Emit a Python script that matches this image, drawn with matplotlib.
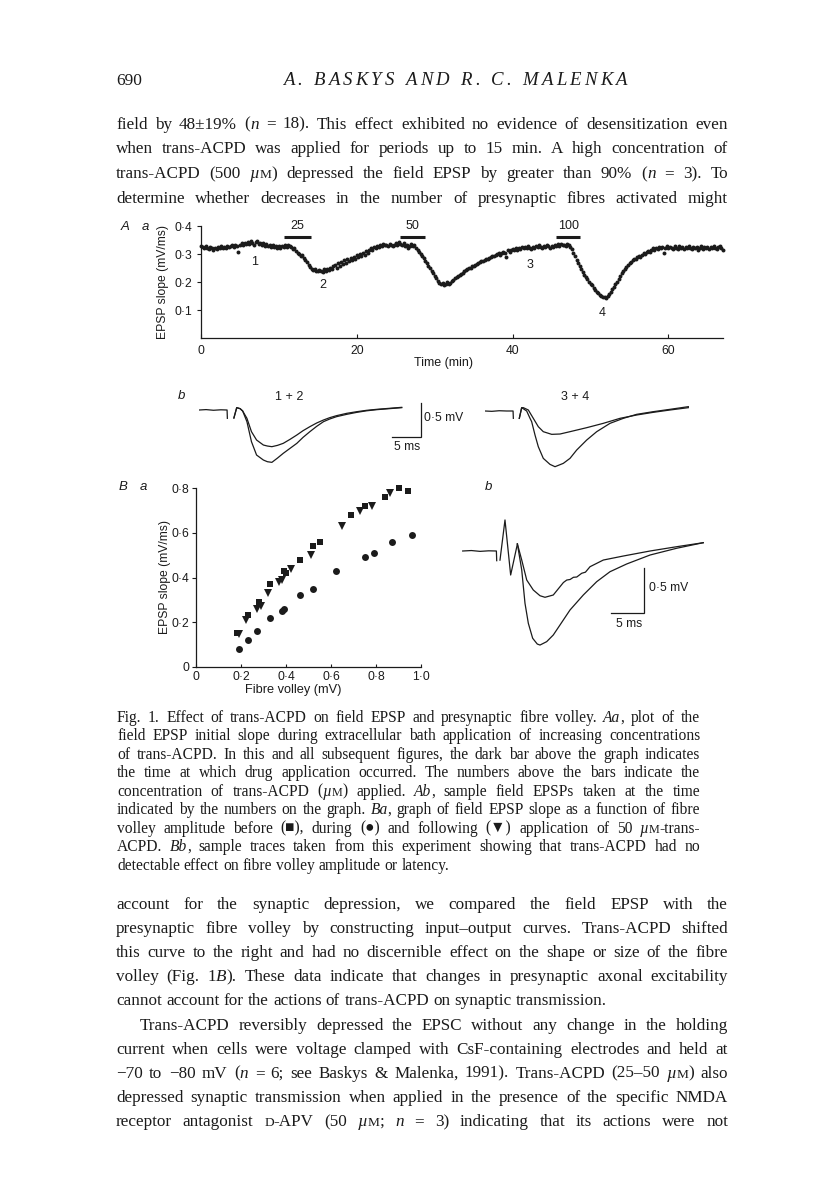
import numpy as np
import matplotlib
matplotlib.use('Agg')
import matplotlib.pyplot as plt

W, H, DPI = 816, 1183, 100
INK = '#1b1b1b'
SERIF = ['Liberation Serif', 'DejaVu Serif', 'DejaVu Sans']
SANS = ['Liberation Sans', 'DejaVu Sans']

# ---------------- data : panel Aa (EPSP slope, one point every 0.2 min) -------------
dt_min = 0.2
slope_0_5 = [0.330,0.326,0.322,0.327,0.320,0.318,0.324,0.321,0.316,0.323,0.319,0.325,0.321,0.328,0.322,0.326,0.320,0.330,0.324,0.327,0.331,0.325,0.333,0.328,0.306]
slope_5_10 = [0.334,0.338,0.331,0.340,0.336,0.343,0.337,0.345,0.339,0.334,0.342,0.348,0.336,0.340,0.332,0.338,0.330,0.335,0.328,0.333,0.326,0.331,0.324,0.329,0.322]
slope_10_15 = [0.327,0.320,0.329,0.324,0.331,0.326,0.333,0.328,0.324,0.318,0.322,0.312,0.305,0.300,0.292,0.296,0.285,0.278,0.270,0.262,0.254,0.248,0.243,0.246,0.240]
slope_15_20 = [0.238,0.244,0.241,0.236,0.245,0.240,0.248,0.243,0.252,0.246,0.256,0.262,0.250,0.268,0.258,0.272,0.264,0.278,0.268,0.282,0.274,0.286,0.279,0.290,0.284]
slope_20_25 = [0.295,0.288,0.300,0.294,0.305,0.298,0.310,0.304,0.314,0.320,0.316,0.324,0.320,0.328,0.325,0.332,0.328,0.335,0.331,0.334,0.330,0.336,0.332,0.329,0.334]
slope_25_30 = [0.338,0.333,0.342,0.336,0.331,0.340,0.328,0.334,0.322,0.330,0.335,0.328,0.332,0.320,0.316,0.308,0.300,0.292,0.286,0.276,0.268,0.258,0.249,0.240,0.232]
slope_30_35 = [0.222,0.214,0.205,0.198,0.192,0.196,0.188,0.194,0.199,0.192,0.197,0.203,0.208,0.214,0.218,0.222,0.227,0.230,0.234,0.238,0.242,0.246,0.249,0.252,0.256]
slope_35_40 = [0.259,0.262,0.266,0.268,0.271,0.274,0.277,0.279,0.282,0.284,0.287,0.290,0.292,0.294,0.297,0.299,0.302,0.298,0.305,0.308,0.304,0.290,0.313,0.309,0.315]
slope_40_45 = [0.318,0.314,0.320,0.316,0.322,0.319,0.324,0.320,0.326,0.322,0.328,0.323,0.318,0.326,0.321,0.329,0.324,0.331,0.326,0.322,0.330,0.325,0.332,0.327,0.323]
slope_45_50 = [0.330,0.326,0.333,0.328,0.335,0.330,0.336,0.331,0.334,0.329,0.335,0.331,0.326,0.318,0.305,0.292,0.280,0.268,0.256,0.245,0.236,0.226,0.218,0.210,0.202]
slope_50_55 = [0.195,0.188,0.180,0.172,0.166,0.160,0.155,0.150,0.146,0.148,0.143,0.150,0.158,0.166,0.175,0.184,0.193,0.202,0.212,0.222,0.232,0.240,0.248,0.255,0.262]
slope_55_60 = [0.268,0.273,0.278,0.284,0.281,0.290,0.294,0.290,0.298,0.303,0.300,0.306,0.311,0.308,0.315,0.320,0.316,0.322,0.318,0.325,0.320,0.326,0.303,0.322,0.328]
slope_60_65 = [0.320,0.326,0.322,0.318,0.328,0.323,0.319,0.327,0.321,0.325,0.317,0.324,0.320,0.328,0.322,0.318,0.326,0.320,0.324,0.316,0.323,0.327,0.319,0.325,0.321]
slope_65_67 = [0.326,0.318,0.324,0.320,0.328,0.322,0.317,0.325,0.330,0.321,0.316]

drug_labels = ['25', '50', '100']
drug_on = [10.7, 25.6, 45.6]
drug_off = [14.1, 28.8, 48.7]
sample_ids = ['1', '2', '3', '4']
sample_t = [6.9, 15.6, 42.2, 51.5]
sample_y = [0.27, 0.19, 0.26, 0.09]
aa_xticks = [0, 20, 40, 60]
aa_xticklabels = ['0', '20', '40', '60']
aa_yticks = [0.1, 0.2, 0.3, 0.4]
aa_yticklabels = ['0·1', '0·2', '0·3', '0·4']

# ---------------- data : panel Ab traces (ms, mV) ----------------
ab12_base_t = [0.0, 1.2, 2.5, 3.8, 4.9, 4.95]
ab12_base_v = [0.0, 0.006, -0.004, 0.003, 0.0, -0.125]
ab12_t = [6.1, 6.6, 7.2, 7.65, 8.4, 9.2, 10.1, 11.3, 12.0, 12.8, 13.8, 14.8, 16.0, 17.2, 18.3, 19.5, 20.7, 21.9, 23.0, 24.2, 26.0, 27.8, 29.5, 31.3, 33.5, 35.7]
ab1_v = [-0.12, 0.035, 0.02, -0.015, -0.175, -0.475, -0.675, -0.75, -0.775, -0.785, -0.72, -0.65, -0.575, -0.5, -0.41, -0.325, -0.245, -0.175, -0.135, -0.1, -0.065, -0.035, -0.012, 0.005, 0.02, 0.035]
ab2_v = [-0.12, 0.035, 0.02, -0.015, -0.125, -0.325, -0.45, -0.525, -0.54, -0.55, -0.53, -0.5, -0.44, -0.375, -0.31, -0.25, -0.195, -0.15, -0.115, -0.085, -0.05, -0.025, -0.005, 0.01, 0.025, 0.04]

ab34_base_t = [0.0, 1.2, 2.5, 3.8, 4.95, 5.0]
ab34_base_v = [0.0, -0.005, 0.004, 0.0, 0.0, -0.11]
ab3_t = [6.05, 6.47, 7.35, 7.94, 8.23, 8.82, 9.4, 10.28, 11.46, 12.35, 13.81, 14.99, 16.17, 17.94, 19.7, 22.05, 24.4, 26.75, 29.68, 32.63, 35.86]
ab3_v = [-0.11, 0.05, 0.0, -0.11, -0.16, -0.36, -0.535, -0.71, -0.8, -0.835, -0.785, -0.71, -0.585, -0.435, -0.31, -0.185, -0.11, -0.05, -0.01, 0.025, 0.065]
ab4_t = [6.05, 6.47, 6.76, 7.64, 8.52, 9.4, 10.28, 11.76, 13.23, 14.99, 17.94, 20.86, 23.81, 26.75, 29.68, 32.63, 35.86]
ab4_v = [-0.11, 0.05, 0.05, 0.015, -0.11, -0.235, -0.31, -0.35, -0.345, -0.31, -0.25, -0.185, -0.11, -0.06, -0.02, 0.015, 0.05]

# ---------------- data : panel Ba (input-output) ----------------
before_x = [0.18, 0.23, 0.28, 0.33, 0.39, 0.40, 0.46, 0.52, 0.55, 0.69, 0.75, 0.84, 0.90, 0.94]
before_y = [0.15, 0.23, 0.29, 0.37, 0.43, 0.42, 0.48, 0.54, 0.56, 0.68, 0.72, 0.76, 0.80, 0.79]
during_x = [0.19, 0.23, 0.27, 0.33, 0.38, 0.39, 0.46, 0.52, 0.62, 0.75, 0.79, 0.87, 0.96]
during_y = [0.08, 0.12, 0.16, 0.22, 0.25, 0.26, 0.32, 0.35, 0.43, 0.49, 0.51, 0.56, 0.59]
after_x = [0.19, 0.22, 0.27, 0.29, 0.32, 0.37, 0.38, 0.42, 0.51, 0.65, 0.73, 0.78, 0.86]
after_y = [0.145, 0.21, 0.26, 0.27, 0.33, 0.38, 0.39, 0.44, 0.50, 0.63, 0.70, 0.72, 0.78]
ba_xticks = [0, 0.2, 0.4, 0.6, 0.8, 1.0]
ba_xticklabels = ['0', '0·2', '0·4', '0·6', '0·8', '1·0']
ba_yticks = [0, 0.2, 0.4, 0.6, 0.8]
ba_yticklabels = ['0', '0·2', '0·4', '0·6', '0·8']

# ---------------- data : panel Bb traces (ms, mV) ----------------
bb_base_t = [0.0, 1.3, 2.6, 3.9, 5.05, 5.1]
bb_base_v = [0.0, 0.005, -0.004, 0.002, 0.0, -0.106]
bb_volley_t = [5.59, 6.34, 7.19, 8.2]
bb_volley_v = [-0.1, 0.34, -0.263, 0.077]
bb_small_t = [8.2, 8.85, 9.6, 10.58, 11.59, 12.34, 13.58, 14.59, 15.1, 15.6, 16.1, 16.6, 17.1, 17.84, 18.4, 19.09, 21.08, 24.08, 28.09, 32.08, 36.07]
bb_small_v = [0.077, -0.099, -0.318, -0.427, -0.49, -0.507, -0.482, -0.391, -0.345, -0.318, -0.312, -0.288, -0.285, -0.244, -0.232, -0.172, -0.099, -0.055, 0.0, 0.047, 0.091]
bb_large_t = [8.2, 8.85, 9.34, 9.84, 10.49, 11.18, 11.59, 12.59, 13.58, 14.59, 16.09, 18.08, 20.09, 22.08, 24.59, 28.09, 32.08, 36.07]
bb_large_v = [0.077, -0.208, -0.573, -0.792, -0.956, -1.019, -1.03, -0.993, -0.92, -0.81, -0.646, -0.482, -0.336, -0.227, -0.142, -0.044, 0.03, 0.091]

# ---------------- page text ----------------
header_page = '690'
header_authors = 'A. BASKYS AND R. C. MALENKA'
para_top = [
    'field by 48±19% (*n* = 18). This effect exhibited no evidence of desensitization even',
    'when trans-ACPD was applied for periods up to 15 min. A high concentration of',
    'trans-ACPD (500 *µ*~M~) depressed the field EPSP by greater than 90% (*n* = 3). To',
    'determine whether decreases in the number of presynaptic fibres activated might',
]
caption = [
    'Fig. 1. Effect of trans-ACPD on field EPSP and presynaptic fibre volley. *Aa*, plot of the',
    'field EPSP initial slope during extracellular bath application of increasing concentrations',
    'of trans-ACPD. In this and all subsequent figures, the dark bar above the graph indicates',
    'the time at which drug application occurred. The numbers above the bars indicate the',
    'concentration of trans-ACPD (*µ*~M~) applied. *Ab*, sample field EPSPs taken at the time',
    'indicated by the numbers on the graph. *Ba*, graph of field EPSP slope as a function of fibre',
    'volley amplitude before (■), during (●) and following (▼) application of 50 *µ*~M~-trans-',
    'ACPD. *Bb*, sample traces taken from this experiment showing that trans-ACPD had no',
    'detectable effect on fibre volley amplitude or latency.',
]
para_bottom = [
    'account for the synaptic depression, we compared the field EPSP with the',
    'presynaptic fibre volley by constructing input–output curves. Trans-ACPD shifted',
    'this curve to the right and had no discernible effect on the shape or size of the fibre',
    'volley (Fig. 1*B*). These data indicate that changes in presynaptic axonal excitability',
    'cannot account for the actions of trans-ACPD on synaptic transmission.',
    'Trans-ACPD reversibly depressed the EPSC without any change in the holding',
    'current when cells were voltage clamped with CsF-containing electrodes and held at',
    '−70 to −80 mV (*n* = 6; see Baskys & Malenka, 1991). Trans-ACPD (25–50 *µ*~M~) also',
    'depressed synaptic transmission when applied in the presence of the specific NMDA',
    'receptor antagonist ~D~-APV (50 *µ*~M~; *n* = 3) indicating that its actions were not',
]

# =====================================================================
fig = plt.figure(figsize=(W / DPI, H / DPI), dpi=DPI)
fig.patch.set_facecolor('white')
page = fig.add_axes([0, 0, 1, 1])
page.set_xlim(0, W)
page.set_ylim(H, 0)
page.axis('off')
renderer = fig.canvas.get_renderer()


def px_axes(x0, ytop, x1, ybot):
    a = fig.add_axes([x0 / W, 1 - ybot / H, (x1 - x0) / W, (ybot - ytop) / H])
    a.set_facecolor('none')
    return a


def parse(word):
    segs, style, buf = [], set(), ''
    for ch in word:
        if ch in '*~':
            if buf:
                segs.append((buf, frozenset(style)))
                buf = ''
            key = 'i' if ch == '*' else 'sc'
            style ^= {key}
        else:
            buf += ch
    if buf:
        segs.append((buf, frozenset(style)))
    return segs


def text_line(s, x0, x1, yb, size, justify=True):
    words = s.split(' ')
    items, widths = [], []
    for w in words:
        wl = []
        for seg, st in parse(w):
            fs = size * 0.78 if 'sc' in st else size
            t = page.text(0, yb, seg, fontsize=fs, family=SERIF, va='baseline', ha='left',
                          style='italic' if 'i' in st else 'normal', color=INK)
            wl.append((t, t.get_window_extent(renderer).width))
        items.append(wl)
        widths.append(sum(wd for _, wd in wl))
    if justify and len(words) > 1:
        gap = (x1 - x0 - sum(widths)) / (len(words) - 1)
    else:
        gap = size * DPI / 72 * 0.25
    x = x0
    for wl, ws in zip(items, widths):
        xx = x
        for t, wd in wl:
            t.set_x(xx)
            xx += wd
        x += ws + gap


def tracked(s, x0, x1, yb, size, style='italic'):
    objs = []
    for ch in s:
        if ch == ' ':
            objs.append((None, size * DPI / 72 * 0.25))
        else:
            t = page.text(0, yb, ch, fontsize=size, family=SERIF, style=style,
                          va='baseline', ha='left', color=INK)
            objs.append((t, t.get_window_extent(renderer).width))
    extra = (x1 - x0 - sum(w for _, w in objs)) / (len(objs) - 1)
    x = x0
    for t, w in objs:
        if t is not None:
            t.set_x(x)
        x += w + extra


def sans(x, y, s, size=8.5, ha='center', va='center', style='normal', rot=0):
    page.text(x, y, s, fontsize=size, family=SANS, ha=ha, va=va, style=style,
              rotation=rot, color=INK)


# ---------------- page text ----------------
page.text(116, 85, header_page, fontsize=12.5, family=SERIF, va='baseline', ha='left', color=INK)
tracked(header_authors, 283, 627, 85, 13.5)
BODY = 12.3
for i, line in enumerate(para_top):
    text_line(line, 116, 728, 128.5 + i * 24.7, BODY)
CAP = 11.2
for i, line in enumerate(caption):
    text_line(line, 117, 700, 721.5 + i * 18.5, CAP, justify=(i < len(caption) - 1))
for i, line in enumerate(para_bottom):
    x0 = 140 if i == 5 else 116
    text_line(line, x0, 728, 909 + i * 24.1, BODY, justify=(i != 4))


def style_axes(a):
    for sp in ('top', 'right'):
        a.spines[sp].set_visible(False)
    for sp in ('left', 'bottom'):
        a.spines[sp].set_linewidth(0.9)
        a.spines[sp].set_color(INK)
    a.tick_params(axis='both', colors=INK, width=0.8, labelsize=8.7)
    for lab in a.get_xticklabels() + a.get_yticklabels():
        lab.set_family(SANS)


# ---------------- panel Aa ----------------
slope = np.concatenate([slope_0_5, slope_5_10, slope_10_15, slope_15_20, slope_20_25,
                        slope_25_30, slope_30_35, slope_35_40, slope_40_45, slope_45_50,
                        slope_50_55, slope_55_60, slope_60_65, slope_65_67])
time_min = np.arange(len(slope)) * dt_min
aa = px_axes(201, 226, 723, 338.2)
aa.scatter(time_min, slope, s=8, color=INK, linewidths=0, clip_on=False)
aa.set_xlim(0, 67)
aa.set_ylim(0, 0.4)
aa.set_xticks(aa_xticks)
aa.set_xticklabels(aa_xticklabels)
aa.set_yticks(aa_yticks)
aa.set_yticklabels(aa_yticklabels)
style_axes(aa)
aa.tick_params(axis='x', direction='in', length=3, pad=5)
aa.tick_params(axis='y', direction='out', length=3, pad=3)
for lab, t0, t1 in zip(drug_labels, drug_on, drug_off):
    aa.plot([t0, t1], [0.36, 0.36], color=INK, lw=2.2, solid_capstyle='butt', clip_on=False)
    aa.text((t0 + t1) / 2, 0.378, lab, fontsize=9, family=SANS, ha='center', va='bottom', color=INK)
for lab, tx, ty in zip(sample_ids, sample_t, sample_y):
    aa.text(tx, ty, lab, fontsize=9, family=SANS, ha='center', va='center', color=INK)
sans(444, 363, 'Time (min)', size=9)
sans(163, 282, 'EPSP slope (mV/ms)', size=8.7, rot=90)
sans(125, 227, 'A', size=9.5, style='italic')
sans(145, 227, 'a', size=9.5, style='italic')

# ---------------- panel Ab ----------------
PX_MS, PX_MV = 5.67, 66.7
ab1 = px_axes(199.3, 395, 449.3, 475)
ab1.set_xlim(0, 250 / PX_MS)
ab1.set_ylim((410 - 475) / PX_MV, (410 - 395) / PX_MV)
ab1.axis('off')
ab1.plot(ab12_base_t, ab12_base_v, color=INK, lw=0.9)
ab1.plot(ab12_t, ab1_v, color=INK, lw=0.9)
ab1.plot(ab12_t, ab2_v, color=INK, lw=0.9)
# scale bar 5 ms / 0.5 mV
ab1.plot([34.05, 39.05, 39.05], [-0.4, -0.4, 0.1], color=INK, lw=0.9, solid_joinstyle='miter')
ab1.text(39.55, -0.125, '0·5 mV', fontsize=8.7, family=SANS, ha='left', va='center', color=INK)
ab1.text(36.6, -0.55, '5 ms', fontsize=8.7, family=SANS, ha='center', va='center', color=INK)

ab2 = px_axes(485, 395, 715, 475)
ab2.set_xlim(0, 230 / PX_MS)
ab2.set_ylim((411 - 475) / PX_MV, (411 - 395) / PX_MV)
ab2.axis('off')
ab2.plot(ab34_base_t, ab34_base_v, color=INK, lw=0.9)
ab2.plot(ab3_t, ab3_v, color=INK, lw=0.9)
ab2.plot(ab4_t, ab4_v, color=INK, lw=0.9)
sans(181, 396, 'b', size=9.5, style='italic')
sans(289.3, 396.7, '1 + 2', size=9)
sans(575, 396.7, '3 + 4', size=9)

# ---------------- panel Ba ----------------
ba = px_axes(196, 488.3, 421, 666.7)
ba.plot(before_x, before_y, 's', ms=4.7, color=INK, mew=0, clip_on=False)
ba.plot(during_x, during_y, 'o', ms=5.0, color=INK, mew=0, clip_on=False)
ba.plot(after_x, after_y, 'v', ms=5.4, color=INK, mew=0, clip_on=False)
ba.set_xlim(0, 1.0)
ba.set_ylim(0, 0.8)
ba.set_xticks(ba_xticks)
ba.set_xticklabels(ba_xticklabels)
ba.set_yticks(ba_yticks)
ba.set_yticklabels(ba_yticklabels)
style_axes(ba)
ba.tick_params(axis='x', direction='in', length=2, pad=3)
ba.tick_params(axis='y', direction='out', length=3, pad=2)
sans(293, 690, 'Fibre volley (mV)', size=9.2)
sans(165, 577, 'EPSP slope (mV/ms)', size=8.7, rot=90)
sans(123.3, 486.7, 'B', size=9.5, style='italic')
sans(143.3, 486.7, 'a', size=9.5, style='italic')

# ---------------- panel Bb ----------------
BPX_MS, BPX_MV = 6.67, 91.3
bb = px_axes(455, 505, 720, 660)
bb.set_xlim((455 - 462.7) / BPX_MS, (720 - 462.7) / BPX_MS)
bb.set_ylim((551 - 660) / BPX_MV, (551 - 505) / BPX_MV)
bb.axis('off')
bb.plot(bb_base_t, bb_base_v, color=INK, lw=0.9)
bb.plot(bb_volley_t, bb_volley_v, color=INK, lw=0.9)
bb.plot(bb_small_t, bb_small_v, color=INK, lw=0.9)
bb.plot(bb_large_t, bb_large_v, color=INK, lw=0.9)
bb.plot([22.23, 27.23, 27.23], [-0.682, -0.682, -0.182], color=INK, lw=0.9, solid_joinstyle='miter')
bb.text(27.98, -0.4, '0·5 mV', fontsize=8.7, family=SANS, ha='left', va='center', color=INK)
bb.text(24.98, -0.8, '5 ms', fontsize=8.7, family=SANS, ha='center', va='center', color=INK)
sans(488.3, 486.7, 'b', size=9.5, style='italic')

fig.savefig('out.png', dpi=DPI, facecolor='white')
